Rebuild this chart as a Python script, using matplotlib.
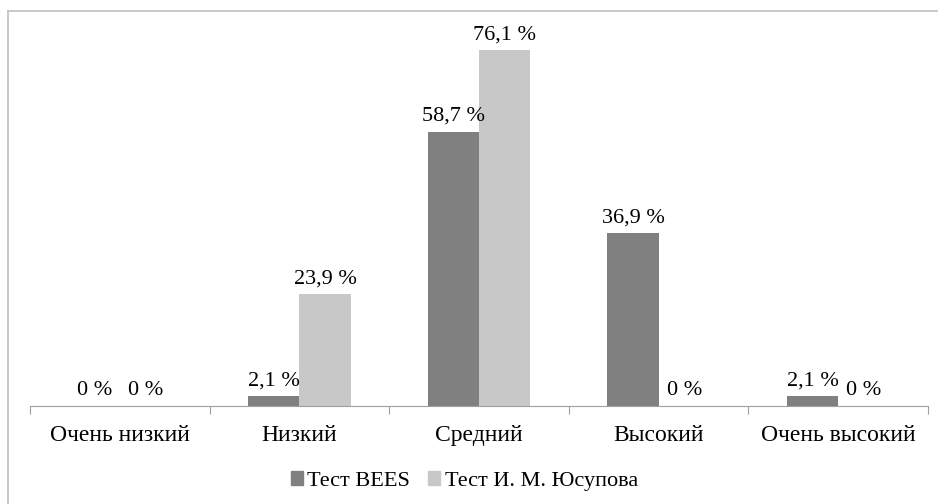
import numpy as np
import matplotlib
matplotlib.use('Agg')
import matplotlib.pyplot as plt
from matplotlib.lines import Line2D
from matplotlib.patches import Patch

plt.rcParams['font.family'] = ['Liberation Serif', 'DejaVu Serif']

# Данные
categories = ['Очень низкий', 'Низкий', 'Средний', 'Высокий', 'Очень высокий']
bees = [0, 2.1, 58.7, 36.9, 2.1]
yusupov = [0, 23.9, 76.1, 0, 0]
series_names = ['Тест BEES', 'Тест И. М. Юсупова']

fig = plt.figure(figsize=(9.38, 5.04), dpi=100)
ax = fig.add_axes([30 / 938, 98 / 504, 898 / 938, 374 / 504])

x = np.arange(len(categories))
w = 0.285
ax.bar(x - w / 2, bees, w, color='#808080')
ax.bar(x + w / 2, yusupov, w, color='#c8c8c8')

def fmt(v):
    s = ('%.1f' % v).replace('.', ',') if v != 0 else '0'
    return s + ' %'

for xi, v in zip(x - w / 2, bees):
    ax.annotate(fmt(v), (xi, v), xytext=(0, 4), textcoords='offset points',
                ha='center', va='bottom', fontsize=16)
for xi, v in zip(x + w / 2, yusupov):
    ax.annotate(fmt(v), (xi, v), xytext=(0, 4), textcoords='offset points',
                ha='center', va='bottom', fontsize=16)

ax.set_xlim(-0.5, len(categories) - 0.5)
ax.set_ylim(0, 80)
ax.set_yticks([])
ax.set_xticks(np.arange(len(categories) + 1) - 0.5, minor=False)
ax.set_xticklabels([])
ax.set_xticks(x, minor=True)
ax.set_xticklabels(categories, minor=True, fontsize=17)
ax.tick_params(axis='x', which='major', length=6, color='#a0a0a0')
ax.tick_params(axis='x', which='minor', length=0, pad=14)
for s in ['top', 'right', 'left']:
    ax.spines[s].set_visible(False)
ax.spines['bottom'].set_color('#a0a0a0')

handles = [Patch(color='#808080'), Patch(color='#c8c8c8')]
fig.legend(handles, series_names, loc='center', bbox_to_anchor=(0.495, 23 / 504),
           ncol=2, frameon=False, fontsize=16, handlelength=0.55, handleheight=0.55,
           handletextpad=0.2, columnspacing=0.8)

# рамка диаграммы
fig.add_artist(Line2D([8 / 938, 1], [1 - 11 / 504, 1 - 11 / 504], color='#c0c0c0', lw=1.2))
fig.add_artist(Line2D([8 / 938, 8 / 938], [0, 1 - 11 / 504], color='#c0c0c0', lw=1.2))

fig.savefig('out.png', dpi=100)
